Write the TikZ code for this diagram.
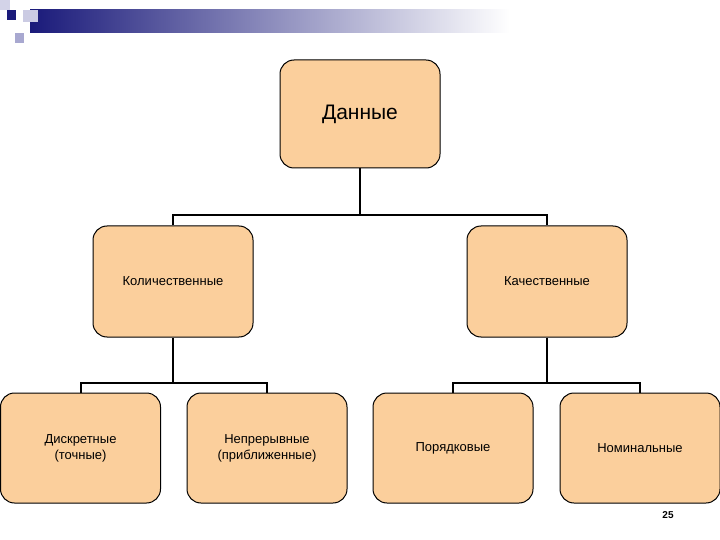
\documentclass[tikz,border=0pt]{standalone}
\usepackage{fontspec}
\setmainfont{Liberation Sans}
\begin{document}
\begin{tikzpicture}[x=1pt,y=-1pt,
  box/.style={draw=black,line width=1pt,fill=peach,rounded corners=14pt,minimum width=160pt,minimum height=110pt,align=center,inner sep=0pt,font=\fontsize{13}{16}\selectfont},
  conn/.style={line width=2pt}]
\definecolor{peach}{HTML}{FBCF9C}
\definecolor{navy}{HTML}{1A1A7A}
\definecolor{lav}{HTML}{A8A8D0}
\useasboundingbox (0,0) rectangle (720,540);
\shade[left color=navy,right color=white] (30,10) rectangle (510,33);
\fill[white] (510,10) rectangle (720,33);
\fill[lav!50] (0,0) rectangle (10,10);
\fill[lav!60] (23,10) rectangle (38,22);
\fill[lav] (15,33) rectangle (24,43);
\fill[navy] (7,10) rectangle (16,20);
\node[box,minimum height=108pt,font=\fontsize{21}{25}\selectfont] (d) at (360,114) {Данные};
\node[box,minimum height=111pt] (k) at (173,281.5) {Количественные};
\node[box,minimum height=111pt] (q) at (547,281.5) {Качественные};
\node[box] (a) at (80.5,448) {Дискретные\\(точные)};
\node[box] (b) at (267,448) {Непрерывные\\(приближенные)};
\node[box] (c) at (453,448) {Порядковые};
\node[box] (e) at (640,448) {Номинальные};
\draw[conn] (d.south) -- ++(0,47) -| (k.north);
\draw[conn] (d.south) ++(0,47) -| (q.north);
\draw[conn] (k.south) -- ++(0,45) -| (a.north);
\draw[conn] (k.south) ++(0,45) -| (b.north);
\draw[conn] (q.south) -- ++(0,45) -| (c.north);
\draw[conn] (q.south) ++(0,45) -| (e.north);
\node[font=\bfseries\fontsize{10}{12}\selectfont] (p) at (668,515) {25};
\end{tikzpicture}
\end{document}
